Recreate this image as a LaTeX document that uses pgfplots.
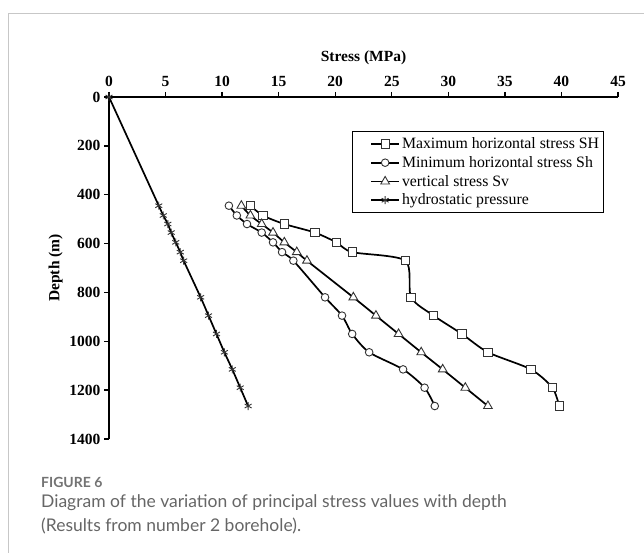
\documentclass[border=0pt]{standalone}
\usepackage{fontspec}
\setmainfont{Liberation Serif}
\newfontfamily\capfont{Lato}
\usepackage{pgfplots}
\pgfplotsset{compat=1.18}
\begin{document}
\begin{tikzpicture}[x=1pt,y=1pt]
\path[use as bounding box, fill=white] (0,0) rectangle (644,553);
\draw[color=black!22, line width=1pt] (8,0) -- (8,539) -- (644,539);
\begin{axis}[
 at={(109pt,456pt)}, anchor=north west,
 scale only axis, width=509pt, height=342pt,
 xmin=0, xmax=45, ymin=0, ymax=1400, y dir=reverse,
 axis x line*=top, axis y line*=left,
 xtick={0,5,...,45}, ytick={0,200,...,1400},
 tick align=outside, major tick length=5pt,
 ticklabel style={font=\fontsize{15.5}{18}\selectfont\bfseries},
 xticklabel style={yshift=2pt},
 /pgf/number format/assume math mode=true,
 /pgf/number format/1000 sep={},
 xlabel={Stress (MPa)}, ylabel={Depth (m)},
 xlabel style={yshift=4pt},
 label style={font=\fontsize{15.5}{18}\selectfont\bfseries},
 axis line style={line width=1.9pt},
 tick style={line width=1.3pt, black},
 stl/.style={black, line width=1.7pt, smooth, tension=0.45,
   mark options={solid, line width=0.9pt, fill=white, draw=black!80}},
 legend style={at={(0.477,0.90)}, anchor=north west, draw=black, line width=1pt,
   font=\fontsize{15.8}{17}\selectfont, row sep=2.3pt, inner ysep=4pt, inner xsep=2pt},
 legend cell align=left,
 legend image code/.code={\path (0pt,0pt) (44pt,0pt); \draw[sharp plot, mark repeat=2, mark phase=2, #1] plot coordinates {(16pt,0pt) (30pt,0pt) (44pt,0pt)};},
]
\addplot[stl, mark=square*, mark size=4.2pt] coordinates {
(12.5,445) (13.6,485) (15.5,520) (18.2,555) (20.1,595) (21.5,635) (26.2,670)
(26.7,820) (28.7,895) (31.2,970) (33.5,1045) (37.3,1115) (39.2,1190) (39.8,1265)};
\addlegendentry{Maximum horizontal stress SH}
\addplot[stl, mark=*, mark size=3.8pt] coordinates {
(10.6,445) (11.3,485) (12.2,520) (13.5,555) (14.5,595) (15.3,635) (16.3,670)
(19.1,820) (20.6,895) (21.5,970) (23.0,1045) (26.0,1115) (27.9,1190) (28.8,1265)};
\addlegendentry{Minimum horizontal stress Sh}
\addplot[stl, mark=triangle*, mark size=5pt] coordinates {
(11.7,445) (12.5,485) (13.5,520) (14.5,555) (15.5,595) (16.6,635) (17.5,670)
(21.6,820) (23.6,895) (25.6,970) (27.6,1045) (29.5,1115) (31.5,1190) (33.5,1265)};
\addlegendentry{vertical stress Sv}
\addplot[stl, mark=asterisk, mark size=4pt] coordinates {
(0,0) (4.4,445) (4.8,485) (5.2,520) (5.5,555) (5.9,595) (6.3,635) (6.6,670)
(8.1,820) (8.8,895) (9.5,970) (10.2,1045) (10.9,1115) (11.6,1190) (12.3,1265)};
\addlegendentry{hydrostatic pressure}
\end{axis}
\node[anchor=base west, font=\capfont\fontsize{14}{16}\selectfont\bfseries, text=black!55, inner sep=0pt] at (41,65) {FIGURE 6};
\node[anchor=base west, font=\capfont\fontsize{17.5}{20}\selectfont, text=black!60, inner sep=0pt] at (41,45) {Diagram of the variation of principal stress values with depth};
\node[anchor=base west, font=\capfont\fontsize{17.5}{20}\selectfont, text=black!60, inner sep=0pt] at (41,21) {(Results from number 2 borehole).};
\end{tikzpicture}
\end{document}
